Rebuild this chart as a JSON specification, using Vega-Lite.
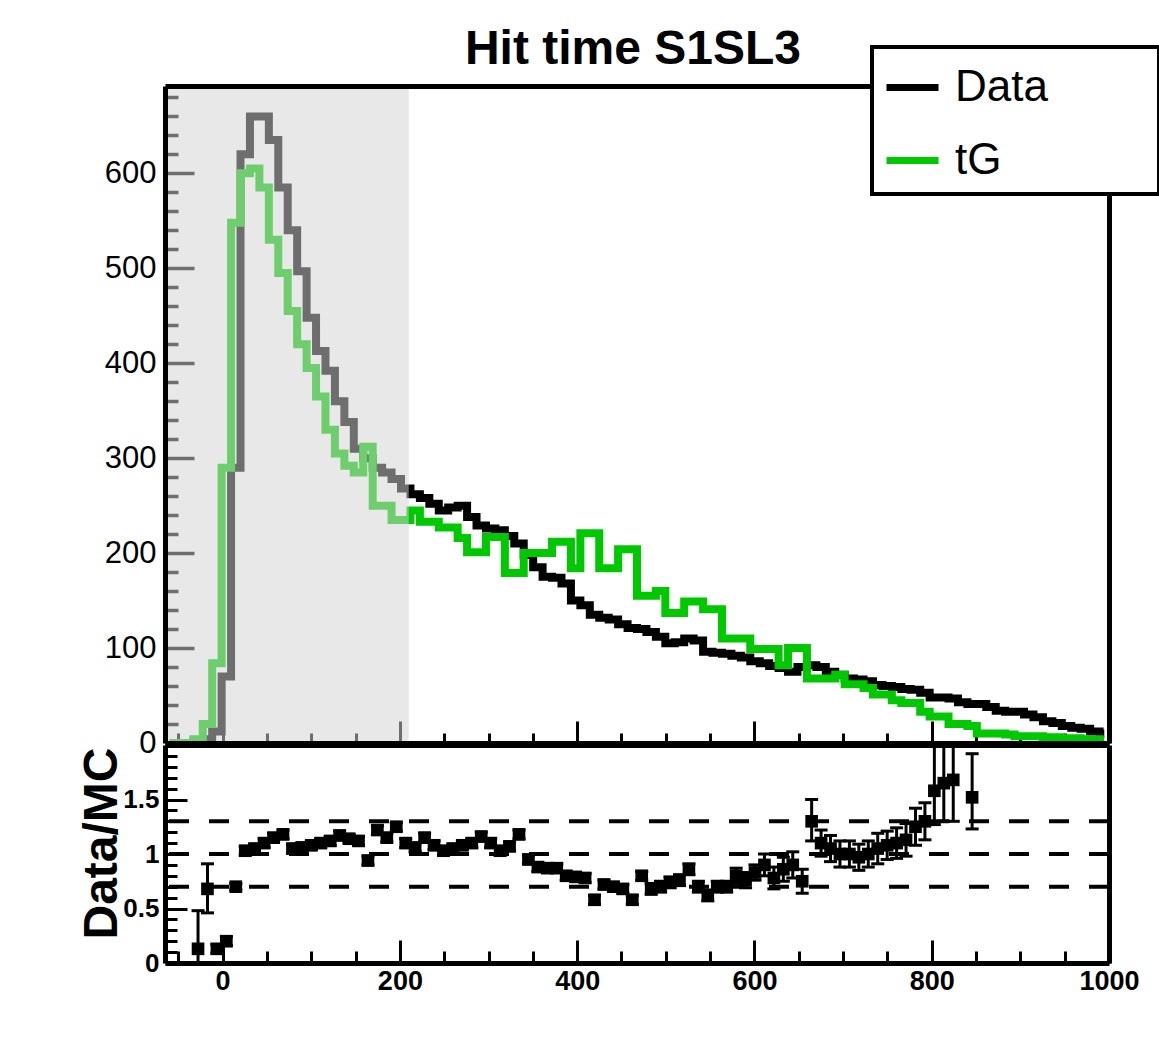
{
  "$schema": "https://vega.github.io/schema/vega-lite/v6.json",
  "background": "white",
  "padding": {"left": 78, "top": 26, "right": 0, "bottom": 0},
  "spacing": 2,
  "bounds": "flush",
  "datasets": {
    "hist": [
      {"x": -59.68, "data": 0, "mc": 0}, {"x": -49.03, "data": 0, "mc": 0}, {"x": -38.38, "data": 0, "mc": 0},
      {"x": -27.73, "data": 1, "mc": 4}, {"x": -17.08, "data": 4, "mc": 20}, {"x": -6.43, "data": 12, "mc": 84},
      {"x": 4.23, "data": 70, "mc": 290}, {"x": 14.88, "data": 290, "mc": 548}, {"x": 25.53, "data": 620, "mc": 600},
      {"x": 36.18, "data": 660, "mc": 605}, {"x": 46.83, "data": 660, "mc": 585}, {"x": 57.48, "data": 635, "mc": 530},
      {"x": 68.13, "data": 585, "mc": 495}, {"x": 78.78, "data": 540, "mc": 455}, {"x": 89.43, "data": 497, "mc": 420},
      {"x": 100.08, "data": 448, "mc": 395}, {"x": 110.73, "data": 413, "mc": 365}, {"x": 121.38, "data": 392, "mc": 330},
      {"x": 132.03, "data": 360, "mc": 305}, {"x": 142.68, "data": 338, "mc": 292}, {"x": 153.33, "data": 310, "mc": 285},
      {"x": 163.98, "data": 300, "mc": 312}, {"x": 174.63, "data": 290, "mc": 250}, {"x": 185.28, "data": 285, "mc": 250},
      {"x": 195.93, "data": 278, "mc": 235}, {"x": 206.58, "data": 268, "mc": 235}, {"x": 217.23, "data": 262, "mc": 245},
      {"x": 227.88, "data": 258, "mc": 233}, {"x": 238.53, "data": 252, "mc": 233}, {"x": 249.18, "data": 245, "mc": 227},
      {"x": 259.83, "data": 248, "mc": 227}, {"x": 270.48, "data": 250, "mc": 216}, {"x": 281.13, "data": 238, "mc": 201},
      {"x": 291.78, "data": 229, "mc": 201}, {"x": 302.43, "data": 226, "mc": 217}, {"x": 313.08, "data": 224, "mc": 217},
      {"x": 323.73, "data": 218, "mc": 179}, {"x": 334.38, "data": 210, "mc": 179}, {"x": 345.03, "data": 198, "mc": 200},
      {"x": 355.68, "data": 185, "mc": 200}, {"x": 366.33, "data": 175, "mc": 200}, {"x": 376.98, "data": 174, "mc": 212},
      {"x": 387.63, "data": 168, "mc": 212}, {"x": 398.28, "data": 150, "mc": 184}, {"x": 408.93, "data": 145, "mc": 221},
      {"x": 419.58, "data": 135, "mc": 221}, {"x": 430.23, "data": 132, "mc": 184}, {"x": 440.88, "data": 130, "mc": 184},
      {"x": 451.53, "data": 125, "mc": 204}, {"x": 462.18, "data": 121, "mc": 204}, {"x": 472.83, "data": 120, "mc": 155},
      {"x": 483.48, "data": 117, "mc": 155}, {"x": 494.13, "data": 112, "mc": 160}, {"x": 504.78, "data": 105, "mc": 137},
      {"x": 515.43, "data": 106, "mc": 137}, {"x": 526.08, "data": 110, "mc": 149}, {"x": 536.73, "data": 108, "mc": 149},
      {"x": 547.38, "data": 96, "mc": 141}, {"x": 558.03, "data": 95, "mc": 141}, {"x": 568.68, "data": 94, "mc": 110},
      {"x": 579.33, "data": 92, "mc": 110}, {"x": 589.98, "data": 90, "mc": 110}, {"x": 600.63, "data": 86, "mc": 99},
      {"x": 611.28, "data": 84, "mc": 99}, {"x": 621.93, "data": 81, "mc": 99}, {"x": 632.58, "data": 79, "mc": 82},
      {"x": 643.23, "data": 75, "mc": 100}, {"x": 653.88, "data": 80, "mc": 100}, {"x": 664.53, "data": 82, "mc": 68},
      {"x": 675.18, "data": 80, "mc": 68}, {"x": 685.83, "data": 75, "mc": 68}, {"x": 696.48, "data": 72, "mc": 72},
      {"x": 707.13, "data": 68, "mc": 62}, {"x": 717.78, "data": 67, "mc": 62}, {"x": 728.43, "data": 65, "mc": 58},
      {"x": 739.08, "data": 61, "mc": 51}, {"x": 749.73, "data": 60, "mc": 51}, {"x": 760.38, "data": 59, "mc": 45},
      {"x": 771.03, "data": 57, "mc": 42}, {"x": 781.68, "data": 56, "mc": 42}, {"x": 792.33, "data": 53, "mc": 33},
      {"x": 802.98, "data": 48, "mc": 28}, {"x": 813.63, "data": 48, "mc": 28}, {"x": 824.28, "data": 47, "mc": 20},
      {"x": 834.93, "data": 43, "mc": 20}, {"x": 845.58, "data": 41, "mc": 18}, {"x": 856.23, "data": 41, "mc": 10},
      {"x": 866.88, "data": 38, "mc": 10}, {"x": 877.53, "data": 34, "mc": 10}, {"x": 888.18, "data": 33, "mc": 9},
      {"x": 898.83, "data": 33, "mc": 7}, {"x": 909.48, "data": 30, "mc": 7}, {"x": 920.13, "data": 27, "mc": 7},
      {"x": 930.78, "data": 23, "mc": 6}, {"x": 941.43, "data": 21, "mc": 6}, {"x": 952.08, "data": 18, "mc": 5},
      {"x": 962.73, "data": 16, "mc": 5}, {"x": 973.38, "data": 15, "mc": 4}, {"x": 984.03, "data": 12, "mc": 4},
      {"x": 994.68, "data": 10, "mc": 3}
    ],
    "ratio": [
      {"x": -27.73, "r": 0.13, "lo": 0.0, "hi": 0.48},
      {"x": -17.08, "r": 0.68, "lo": 0.46, "hi": 0.91},
      {"x": -6.43, "r": 0.13, "lo": 0.09, "hi": 0.17},
      {"x": 4.23, "r": 0.2, "lo": 0.16, "hi": 0.24},
      {"x": 14.88, "r": 0.7, "lo": 0.67, "hi": 0.73},
      {"x": 25.53, "r": 1.03, "lo": 0.99, "hi": 1.07},
      {"x": 36.18, "r": 1.05, "lo": 1.01, "hi": 1.09},
      {"x": 46.83, "r": 1.1, "lo": 1.06, "hi": 1.14},
      {"x": 57.48, "r": 1.15, "lo": 1.11, "hi": 1.19},
      {"x": 68.13, "r": 1.18, "lo": 1.14, "hi": 1.22},
      {"x": 78.78, "r": 1.05, "lo": 1.01, "hi": 1.09},
      {"x": 89.43, "r": 1.06, "lo": 1.02, "hi": 1.1},
      {"x": 100.08, "r": 1.08, "lo": 1.04, "hi": 1.12},
      {"x": 110.73, "r": 1.1, "lo": 1.06, "hi": 1.14},
      {"x": 121.38, "r": 1.12, "lo": 1.08, "hi": 1.16},
      {"x": 132.03, "r": 1.17, "lo": 1.13, "hi": 1.21},
      {"x": 142.68, "r": 1.14, "lo": 1.1, "hi": 1.18},
      {"x": 153.33, "r": 1.12, "lo": 1.08, "hi": 1.16},
      {"x": 163.98, "r": 0.94, "lo": 0.9, "hi": 0.98},
      {"x": 174.63, "r": 1.22, "lo": 1.18, "hi": 1.26},
      {"x": 185.28, "r": 1.15, "lo": 1.11, "hi": 1.19},
      {"x": 195.93, "r": 1.25, "lo": 1.21, "hi": 1.29},
      {"x": 206.58, "r": 1.1, "lo": 1.06, "hi": 1.14},
      {"x": 217.23, "r": 1.06, "lo": 1.02, "hi": 1.1},
      {"x": 227.88, "r": 1.15, "lo": 1.11, "hi": 1.19},
      {"x": 238.53, "r": 1.08, "lo": 1.04, "hi": 1.12},
      {"x": 249.18, "r": 1.03, "lo": 0.99, "hi": 1.07},
      {"x": 259.83, "r": 1.05, "lo": 1.01, "hi": 1.09},
      {"x": 270.48, "r": 1.08, "lo": 1.04, "hi": 1.12},
      {"x": 281.13, "r": 1.1, "lo": 1.06, "hi": 1.14},
      {"x": 291.78, "r": 1.16, "lo": 1.12, "hi": 1.2},
      {"x": 302.43, "r": 1.1, "lo": 1.06, "hi": 1.14},
      {"x": 313.08, "r": 1.03, "lo": 0.99, "hi": 1.07},
      {"x": 323.73, "r": 1.07, "lo": 1.03, "hi": 1.11},
      {"x": 334.38, "r": 1.18, "lo": 1.14, "hi": 1.22},
      {"x": 345.03, "r": 0.95, "lo": 0.91, "hi": 0.99},
      {"x": 355.68, "r": 0.88, "lo": 0.84, "hi": 0.92},
      {"x": 366.33, "r": 0.87, "lo": 0.83, "hi": 0.91},
      {"x": 376.98, "r": 0.87, "lo": 0.83, "hi": 0.91},
      {"x": 387.63, "r": 0.8, "lo": 0.76, "hi": 0.84},
      {"x": 398.28, "r": 0.79, "lo": 0.75, "hi": 0.83},
      {"x": 408.93, "r": 0.78, "lo": 0.74, "hi": 0.82},
      {"x": 419.58, "r": 0.58, "lo": 0.54, "hi": 0.62},
      {"x": 430.23, "r": 0.72, "lo": 0.68, "hi": 0.76},
      {"x": 440.88, "r": 0.7, "lo": 0.66, "hi": 0.74},
      {"x": 451.53, "r": 0.68, "lo": 0.64, "hi": 0.72},
      {"x": 462.18, "r": 0.58, "lo": 0.54, "hi": 0.62},
      {"x": 472.83, "r": 0.8, "lo": 0.76, "hi": 0.84},
      {"x": 483.48, "r": 0.68, "lo": 0.63, "hi": 0.73},
      {"x": 494.13, "r": 0.7, "lo": 0.65, "hi": 0.75},
      {"x": 504.78, "r": 0.74, "lo": 0.69, "hi": 0.79},
      {"x": 515.43, "r": 0.76, "lo": 0.71, "hi": 0.81},
      {"x": 526.08, "r": 0.86, "lo": 0.81, "hi": 0.91},
      {"x": 536.73, "r": 0.7, "lo": 0.65, "hi": 0.75},
      {"x": 547.38, "r": 0.62, "lo": 0.57, "hi": 0.67},
      {"x": 558.03, "r": 0.7, "lo": 0.65, "hi": 0.75},
      {"x": 568.68, "r": 0.7, "lo": 0.65, "hi": 0.75},
      {"x": 579.33, "r": 0.8, "lo": 0.73, "hi": 0.87},
      {"x": 589.98, "r": 0.76, "lo": 0.69, "hi": 0.83},
      {"x": 600.63, "r": 0.83, "lo": 0.76, "hi": 0.9},
      {"x": 611.28, "r": 0.9, "lo": 0.8, "hi": 1.0},
      {"x": 621.93, "r": 0.78, "lo": 0.68, "hi": 0.88},
      {"x": 632.58, "r": 0.86, "lo": 0.75, "hi": 0.97},
      {"x": 643.23, "r": 0.9, "lo": 0.78, "hi": 1.02},
      {"x": 653.88, "r": 0.75, "lo": 0.64, "hi": 0.86},
      {"x": 664.53, "r": 1.3, "lo": 1.12, "hi": 1.5},
      {"x": 675.18, "r": 1.1, "lo": 0.98, "hi": 1.22},
      {"x": 685.83, "r": 1.05, "lo": 0.93, "hi": 1.17},
      {"x": 696.48, "r": 1.0, "lo": 0.88, "hi": 1.12},
      {"x": 707.13, "r": 1.0, "lo": 0.88, "hi": 1.12},
      {"x": 717.78, "r": 0.97, "lo": 0.85, "hi": 1.09},
      {"x": 728.43, "r": 1.0, "lo": 0.88, "hi": 1.12},
      {"x": 739.08, "r": 1.05, "lo": 0.91, "hi": 1.19},
      {"x": 749.73, "r": 1.08, "lo": 0.95, "hi": 1.21},
      {"x": 760.38, "r": 1.1, "lo": 0.96, "hi": 1.24},
      {"x": 771.03, "r": 1.13, "lo": 0.98, "hi": 1.28},
      {"x": 781.68, "r": 1.25, "lo": 1.08, "hi": 1.42},
      {"x": 792.33, "r": 1.3, "lo": 1.13, "hi": 1.47},
      {"x": 802.98, "r": 1.58, "lo": 1.27, "hi": 2.0},
      {"x": 813.63, "r": 1.65, "lo": 1.3, "hi": 2.0},
      {"x": 824.28, "r": 1.68, "lo": 1.3, "hi": 2.0},
      {"x": 845.58, "r": 1.52, "lo": 1.23, "hi": 1.92}
    ],
    "ref": [{"r": 0.7}, {"r": 1.0}, {"r": 1.3}],
    "shade": [{"from": -65, "to": 210}]
  },
  "vconcat": [
    {
      "width": 944,
      "height": 657,
      "title": {"text": "Hit time S1SL3", "font": "Liberation Sans", "fontSize": 48, "fontWeight": "bold", "color": "black", "anchor": "middle", "frame": "group", "baseline": "alphabetic", "offset": -31, "dx": -4},
      "layer": [
        {
          "data": {"name": "hist"},
          "mark": {"type": "line", "interpolate": "step", "strokeWidth": 8, "clip": true},
          "encoding": {
            "x": {"field": "x", "type": "quantitative", "scale": {"domain": [-65, 1000], "nice": false, "zero": false},
                  "axis": {"orient": "bottom", "title": null, "values": [-50,0,50,100,150,200,250,300,350,400,450,500,550,600,650,700,750,800,850,900,950,1000],
                           "domain": false, "labels": false, "ticks": true, "tickWidth": 3, "tickColor": "black",
                           "tickSize": {"condition": {"test": "datum.value % 200 === 0", "value": -22}, "value": -10}, "zindex": 0}},
            "y": {"field": "data", "type": "quantitative", "scale": {"domain": [0, 692], "nice": false},
                  "axis": {"orient": "left", "title": null, "values": [0,20,40,60,80,100,120,140,160,180,200,220,240,260,280,300,320,340,360,380,400,420,440,460,480,500,520,540,560,580,600,620,640,660,680],
                           "domain": false, "ticks": true, "tickWidth": 3.5, "tickColor": "black",
                           "tickSize": {"condition": {"test": "datum.value % 100 === 0", "value": -29}, "value": -13},
                           "labelExpr": "datum.value % 100 === 0 ? datum.label : ''", "format": "d",
                           "labelFont": "Liberation Sans", "labelFontSize": 31, "labelColor": "black", "labelPadding": 38, "labelOverlap": false, "labelFlush": false, "zindex": 0}},
            "color": {"datum": "Data", "type": "nominal", "scale": {"domain": ["Data", "tG"], "range": ["black", "#00c800"]},
                      "legend": {"orient": "none", "legendX": 707, "legendY": -39, "title": "\u00a0", "titleOrient": "right", "titlePadding": 100, "titleFontSize": 11,
                                 "symbolType": "stroke", "symbolStrokeWidth": 7, "symbolSize": 2704,
                                 "labelFont": "Liberation Sans", "labelFontSize": 44, "labelColor": "black", "labelOffset": 13, "labelLimit": 0, "padding": 11, "rowPadding": 21,
                                 "strokeColor": "black", "fillColor": "white", "zindex": 2}}
          }
        },
        {
          "data": {"name": "hist"},
          "mark": {"type": "line", "interpolate": "step", "strokeWidth": 8, "clip": true},
          "encoding": {
            "x": {"field": "x", "type": "quantitative", "scale": {"domain": [-65, 1000], "nice": false, "zero": false},
                  "axis": {"orient": "top", "title": null, "domain": true, "domainColor": "black", "domainWidth": 5, "ticks": false, "labels": false, "zindex": 1}},
            "y": {"field": "mc", "type": "quantitative", "scale": {"domain": [0, 692], "nice": false},
                  "axis": {"orient": "right", "title": null, "domain": true, "domainColor": "black", "domainWidth": 5, "ticks": false, "labels": false, "zindex": 1}},
            "color": {"datum": "tG", "type": "nominal"}
          }
        },
        {
          "data": {"name": "shade"},
          "mark": {"type": "rect", "color": "#d3d3d3", "opacity": 0.52},
          "encoding": {
            "x": {"field": "from", "type": "quantitative", "scale": {"domain": [-65, 1000], "nice": false, "zero": false},
                  "axis": {"orient": "bottom", "title": null, "domain": true, "domainColor": "black", "domainWidth": 5, "ticks": false, "labels": false, "zindex": 1}},
            "x2": {"field": "to"},
            "y": {"datum": 0, "type": "quantitative", "scale": {"domain": [0, 692], "nice": false},
                  "axis": {"orient": "left", "title": null, "domain": true, "domainColor": "black", "domainWidth": 5, "ticks": false, "labels": false, "zindex": 1}},
            "y2": {"datum": 692}
          }
        }
      ],
      "resolve": {"axis": {"x": "independent", "y": "independent"}}
    },
    {
      "width": 944,
      "height": 218,
      "layer": [
        {
          "data": {"name": "ref"},
          "mark": {"type": "rule", "strokeDash": [20, 20], "strokeWidth": 4, "color": "black"},
          "encoding": {
            "y": {"field": "r", "type": "quantitative", "scale": {"domain": [0, 2], "nice": false},
                  "axis": {"orient": "right", "title": null, "domain": true, "domainColor": "black", "domainWidth": 5, "ticks": false, "labels": false, "zindex": 1}}
          }
        },
        {
          "data": {"name": "ratio"},
          "mark": {"type": "errorbar", "color": "black", "opacity": 1, "ticks": {"size": 13, "thickness": 3, "color": "black", "opacity": 1}, "rule": {"strokeWidth": 3, "color": "black", "opacity": 1}},
          "encoding": {
            "x": {"field": "x", "type": "quantitative", "scale": {"domain": [-65, 1000], "nice": false, "zero": false},
                  "axis": {"orient": "bottom", "title": null, "values": [-50,0,50,100,150,200,250,300,350,400,450,500,550,600,650,700,750,800,850,900,950,1000],
                           "domain": true, "domainColor": "black", "domainWidth": 5, "ticks": true, "tickWidth": 3, "tickColor": "black",
                           "tickSize": {"condition": {"test": "datum.value % 200 === 0", "value": -23}, "value": -12},
                           "format": "d", "labelExpr": "datum.value % 200 === 0 ? datum.label : ''",
                           "labelFont": "Liberation Sans", "labelFontSize": 27, "labelFontWeight": "bold", "labelColor": "black", "labelPadding": 28, "labelOverlap": false, "labelFlush": false, "zindex": 1}},
            "y": {"field": "lo", "type": "quantitative", "scale": {"domain": [0, 2], "nice": false},
                  "axis": {"orient": "left", "values": [0,0.1,0.2,0.3,0.4,0.5,0.6,0.7,0.8,0.9,1,1.1,1.2,1.3,1.4,1.5,1.6,1.7,1.8,1.9],
                           "domain": true, "domainColor": "black", "domainWidth": 5, "ticks": true, "tickWidth": 3, "tickColor": "black",
                           "tickSize": {"condition": {"test": "abs(datum.value * 2 - round(datum.value * 2)) < 0.000001", "value": -22}, "value": -12},
                           "format": "~g", "labelExpr": "abs(datum.value * 2 - round(datum.value * 2)) < 0.000001 ? datum.label : ''",
                           "labelFont": "Liberation Sans", "labelFontSize": 26, "labelFontWeight": "bold", "labelColor": "black", "labelPadding": 28, "labelOverlap": false, "labelFlush": false,
                           "title": "Data/MC", "titleFont": "Liberation Sans", "titleFontSize": 48, "titleFontWeight": "bold", "titleColor": "black",
                           "titleAngle": 270, "titleAlign": "center", "titleBaseline": "alphabetic", "titleX": -49, "titleY": 98, "zindex": 1}},
            "y2": {"field": "hi"}
          }
        },
        {
          "data": {"name": "ratio"},
          "mark": {"type": "square", "size": 160, "color": "black", "filled": true, "opacity": 1},
          "encoding": {
            "x": {"field": "x", "type": "quantitative", "scale": {"domain": [-65, 1000], "nice": false, "zero": false},
                  "axis": {"orient": "top", "title": null, "domain": true, "domainColor": "black", "domainWidth": 5, "ticks": false, "labels": false, "zindex": 1}},
            "y": {"field": "r", "type": "quantitative", "scale": {"domain": [0, 2], "nice": false}, "axis": null}
          }
        }
      ],
      "resolve": {"axis": {"x": "independent", "y": "independent"}}
    }
  ],
  "config": {
    "view": {"stroke": null},
    "font": "Liberation Sans",
    "axis": {"grid": false, "labelColor": "black", "tickColor": "black", "domainColor": "black"},
    "legend": {"strokeWidth": 4}
  }
}
